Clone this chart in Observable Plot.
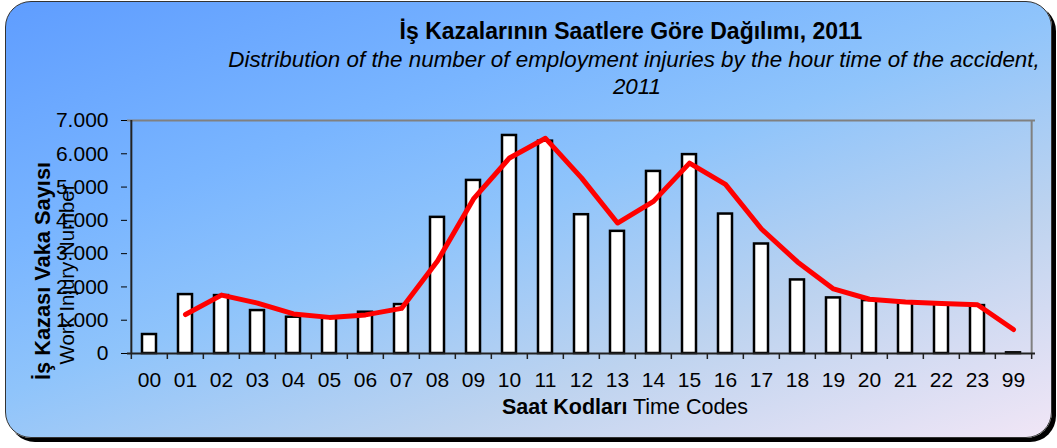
<!DOCTYPE html>
<html>
<head>
<meta charset="utf-8">
<script src="https://cdn.jsdelivr.net/npm/d3@7"></script>
<script src="https://cdn.jsdelivr.net/npm/@observablehq/plot@0.6"></script>
<style>
  body { margin: 0; background: #ffffff; font-family: "Liberation Sans", Arial, sans-serif; }
  #wrap { position: relative; width: 1057px; height: 448px; overflow: hidden; }
  #panel {
    position: absolute; left: 5px; top: 1px; width: 1045px; height: 435px;
    border: 1px solid #333; border-radius: 26px;
    background: linear-gradient(160deg, #5f9dff 0%, #79b5ff 30%, #8fc4fb 48%, #bdd3ef 72%, #f1e6f6 100%);
    box-shadow: 4px 4px 0 #000;
  }
  #chart { position: absolute; left: 0; top: 0; }
  .txt { position: absolute; white-space: nowrap; color: #000; line-height: 1; }
  .c { transform: translate(-50%, -50%); }
  .rot { transform: translate(-50%, -50%) rotate(-90deg); }
</style>
</head>
<body>
<div id="wrap">
  <div id="panel"></div>
  <div id="chart"></div>
  <div class="txt c" style="left:631px; top:31px; font-size:23px; font-weight:bold;">İş Kazalarının Saatlere Göre Dağılımı, 2011</div>
  <div class="txt c" style="left:634px; top:60px; font-size:22.4px; font-style:italic;">Distribution of the number of employment injuries by the hour time of the accident,</div>
  <div class="txt c" style="left:637px; top:87px; font-size:22.4px; font-style:italic;">2011</div>
  <div class="txt rot" style="left:43px; top:271px; font-size:21.8px; font-weight:bold;">İş Kazası Vaka Sayısı</div>
  <div class="txt rot" style="left:67px; top:274px; font-size:20.4px;">Work Injury Number</div>
  <div class="txt c" style="left:625px; top:408px; font-size:21.5px;"><b>Saat Kodları</b> Time Codes</div>
</div>
<script>
// Hour codes (x categories)
const hours = ["00","01","02","03","04","05","06","07","08","09","10","11","12","13","14","15","16","17","18","19","20","21","22","23","99"];
// Number of work injuries per hour code (bars)
const injuries = [570, 1770, 1740, 1290, 1090, 1080, 1240, 1470, 4090, 5200, 6550, 6380, 4170, 3670, 5470, 5975, 4190, 3290, 2210, 1670, 1590, 1510, 1490, 1440, 20];
// Red trend line (2-period moving average as drawn), starting at "01"
const trendHours = ["01","02","03","04","05","06","07","08","09","10","11","12","13","14","15","16","17","18","19","20","21","22","23","99"];
const trendValues = [1170, 1755, 1515, 1190, 1085, 1160, 1355, 2780, 4645, 5875, 6465, 5275, 3920, 4570, 5720, 5080, 3740, 2750, 1940, 1630, 1550, 1500, 1465, 720];
// Y tick values
const yTicks = [0, 1000, 2000, 3000, 4000, 5000, 6000, 7000];

const bars = hours.map((h, i) => ({hour: h, value: injuries[i]}));
const trend = trendHours.map((h, i) => ({hour: h, value: trendValues[i]}));

const W = 1057, H = 448, ML = 127, MR = 22, MT = 120, MB = 95;
const step = (W - ML - MR) / hours.length;
const fmt = d => d === 0 ? "0" : d3.format(",")(d).replace(/,/g, ".");

const chart = Plot.plot({
  width: W,
  height: H,
  marginLeft: ML,
  marginRight: MR,
  marginTop: MT,
  marginBottom: MB,
  style: { background: "transparent", fontSize: "21px", fontFamily: "'Liberation Sans', Arial, sans-serif", color: "#000" },
  x: { type: "band", domain: hours, padding: 0, tickSize: 0, tickPadding: 19, label: null },
  y: { domain: [0, 7000], ticks: yTicks, tickFormat: fmt, tickSize: 6, tickPadding: 13, label: null },
  marks: [
    // frame top/right (gray)
    Plot.ruleY([7000], { stroke: "#808080", strokeWidth: 2 }),
    Plot.ruleX([hours[hours.length - 1]], { dx: step / 2, stroke: "#808080", strokeWidth: 2 }),
    // bars
    Plot.barY(bars, { x: "hour", y: "value", fill: "white", stroke: "black", strokeWidth: 2.5, insetLeft: 11, insetRight: 11 }),
    // axes lines (black)
    Plot.ruleY([0], { stroke: "#222", strokeWidth: 2 }),
    Plot.ruleX([hours[0]], { dx: -step / 2, stroke: "#222", strokeWidth: 2 }),
    // x tick marks at category boundaries
    Plot.ruleX(hours, { x: d => d, y1: 0, y2: 0, insetTop: 6, dx: -step / 2, stroke: "#222", strokeWidth: 1.5 }),
    Plot.ruleX([hours[hours.length - 1]], { x: d => d, y1: 0, y2: 0, insetTop: 6, dx: step / 2, stroke: "#222", strokeWidth: 1.5 }),
    // red trend line
    Plot.line(trend, { x: "hour", y: "value", stroke: "#ff0000", strokeWidth: 5, strokeLinejoin: "round", strokeLinecap: "round" })
  ]
});
document.getElementById("chart").appendChild(chart);
</script>
</body>
</html>
